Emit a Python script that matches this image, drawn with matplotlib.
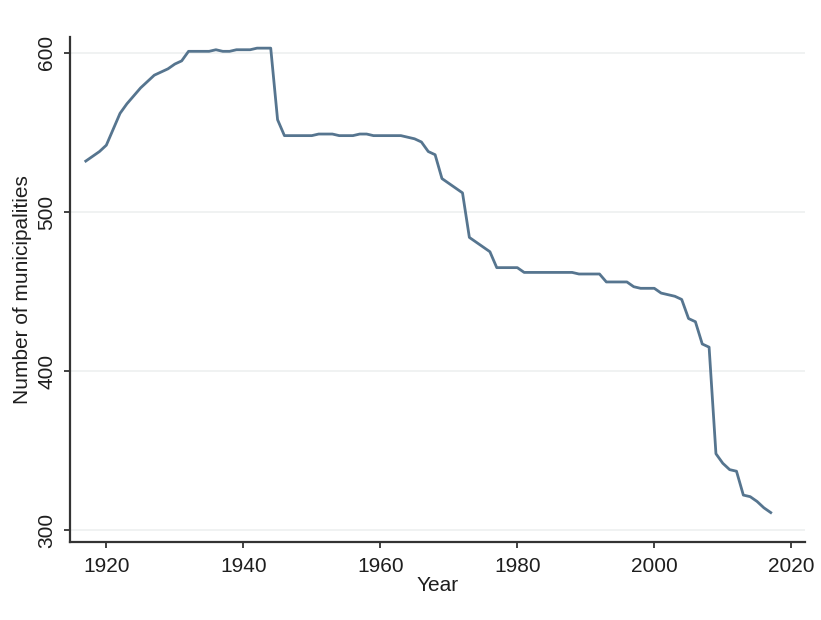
import numpy as np
import matplotlib
matplotlib.use("Agg")
import matplotlib.pyplot as plt

plt.rcParams['font.family'] = ['Liberation Sans', 'DejaVu Sans']

# Number of municipalities per year
years = np.arange(1917, 2018)
municipalities = [
    532, 535, 538, 542, 552, 562, 568, 573, 578, 582,    # 1917-1926
    586, 588, 590, 593, 595, 601, 601, 601, 601, 602,    # 1927-1936
    601, 601, 602, 602, 602, 603, 603, 603, 558, 548,    # 1937-1946
    548, 548, 548, 548, 549, 549, 549, 548, 548, 548,    # 1947-1956
    549, 549, 548, 548, 548, 548, 548, 547, 546, 544,    # 1957-1966
    538, 536, 521, 518, 515, 512, 484, 481, 478, 475,    # 1967-1976
    465, 465, 465, 465, 462, 462, 462, 462, 462, 462,    # 1977-1986
    462, 462, 461, 461, 461, 461, 456, 456, 456, 456,    # 1987-1996
    453, 452, 452, 452, 449, 448, 447, 445, 433, 431,    # 1997-2006
    417, 415, 348, 342, 338, 337, 322, 321, 318, 314,    # 2007-2016
    311,                                                 # 2017
]
x_ticks = [1920, 1940, 1960, 1980, 2000, 2020]
y_ticks = [300, 400, 500, 600]

fig = plt.figure(figsize=(8.21, 6.20), dpi=100)
ax = fig.add_axes([0.0853, 0.1258, 0.8952, 0.8145])

ax.plot(years, municipalities, color='#56758f', linewidth=2.0)

ax.set_xlim(1914.7, 2022)
ax.set_ylim(292.5, 610)
ax.set_xticks(x_ticks)
ax.set_yticks(y_ticks)
ax.yaxis.grid(True, color='#eef0f0', linewidth=1.2)
ax.set_axisbelow(True)

for s in ['top', 'right']:
    ax.spines[s].set_visible(False)
for s in ['left', 'bottom']:
    ax.spines[s].set_color('#333333')
    ax.spines[s].set_linewidth(1.6)

ax.tick_params(axis='both', length=4, width=1.3, color='#333333',
               labelsize=15, labelcolor='#1e1e1e', pad=6)
ax.tick_params(axis='x', pad=7)
for lbl in ax.get_yticklabels():
    lbl.set_rotation(90)
    lbl.set_va('center')

ax.set_xlabel('Year', fontsize=15, color='#1e1e1e', labelpad=0)
ax.set_ylabel('Number of municipalities', fontsize=15, color='#1e1e1e', labelpad=4)

fig.savefig('out.png', dpi=100, facecolor='white')
